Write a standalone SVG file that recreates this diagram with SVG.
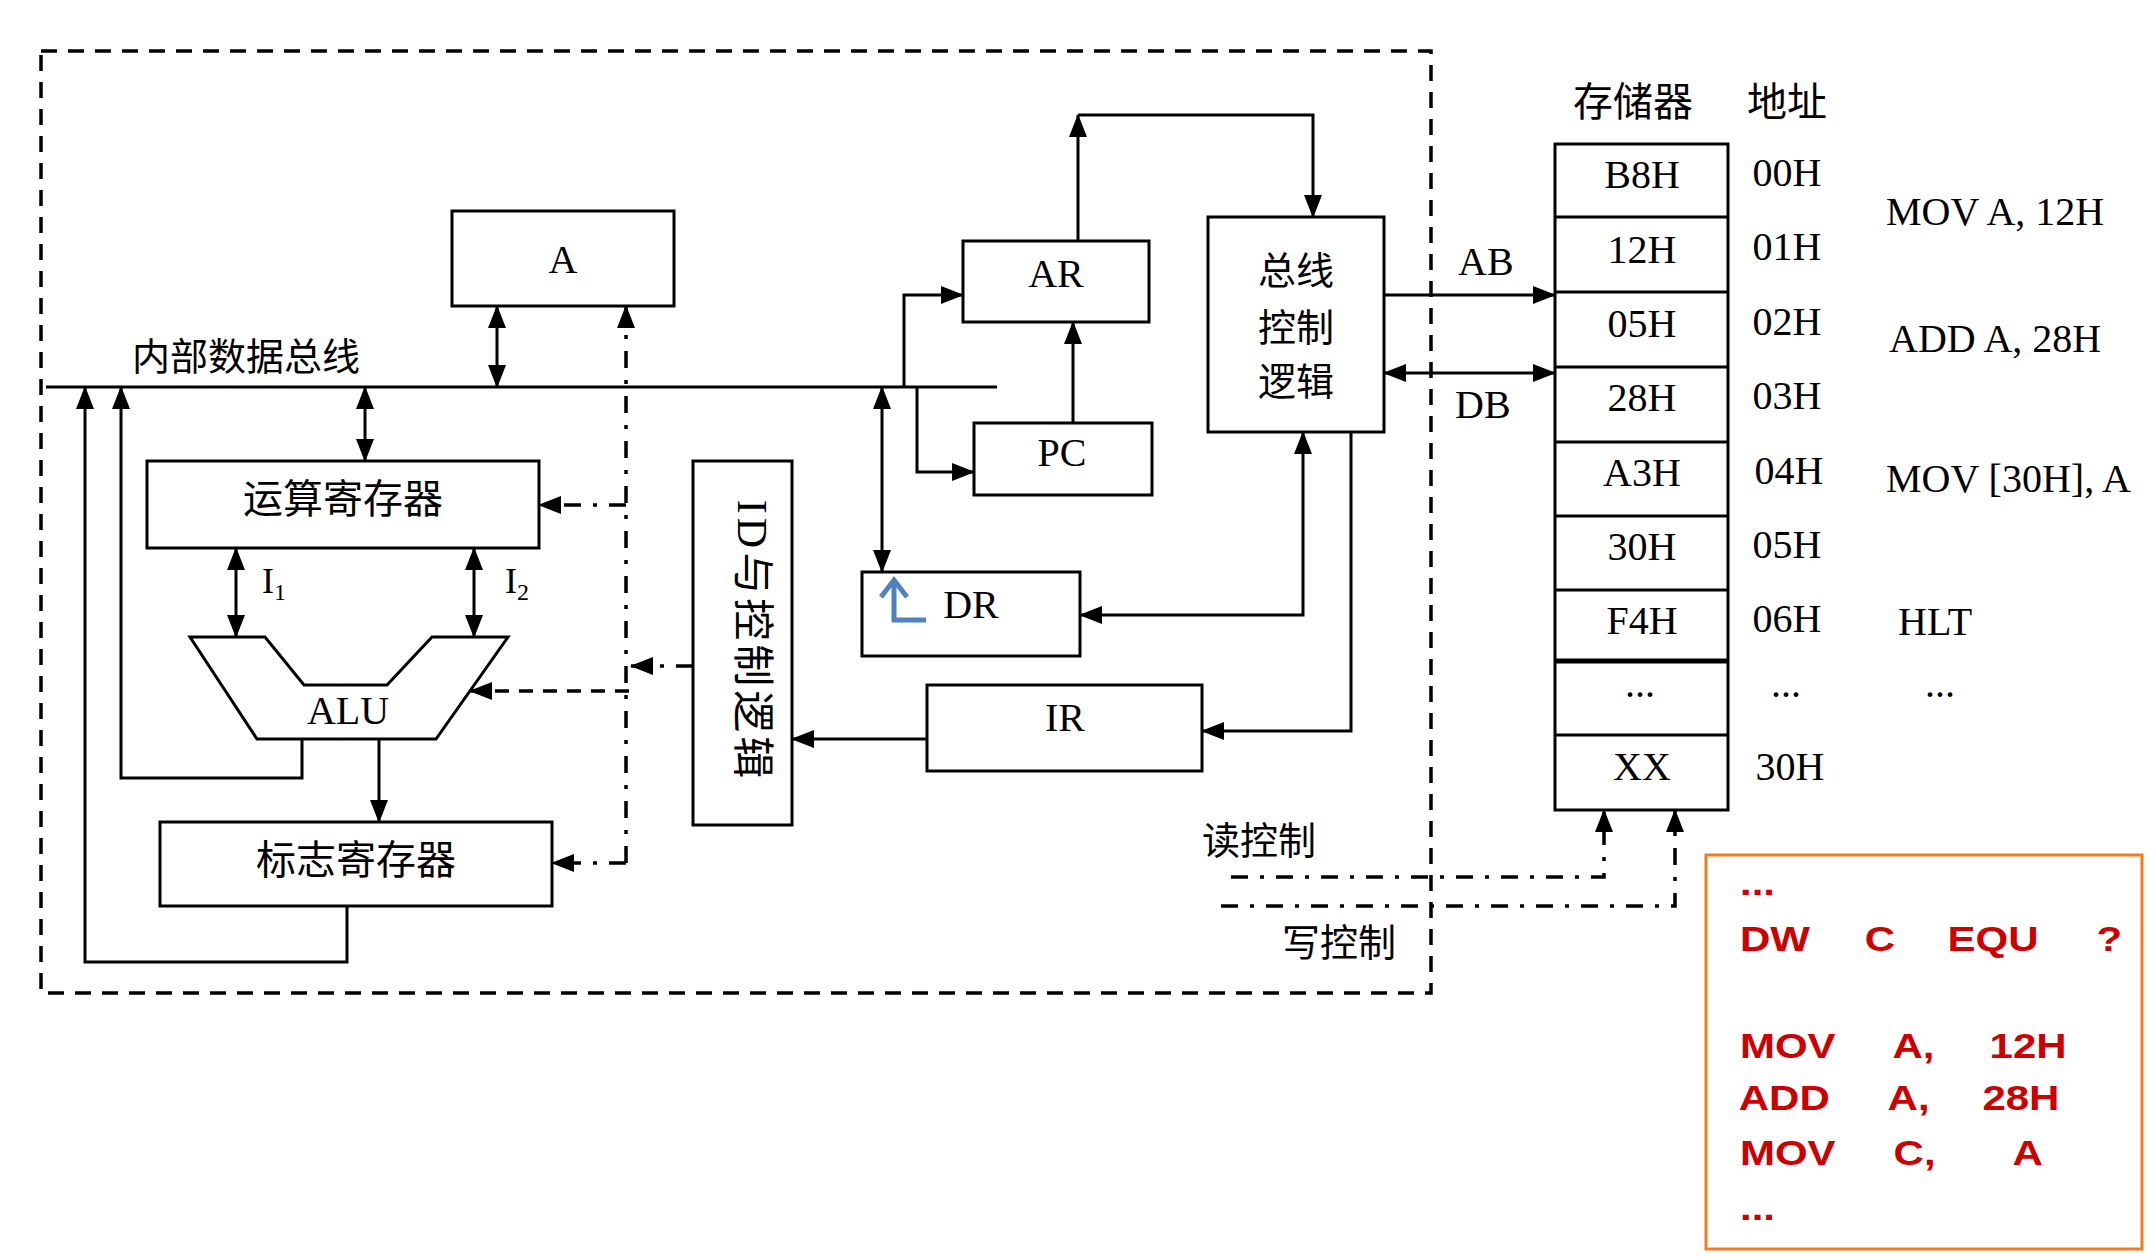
<svg xmlns="http://www.w3.org/2000/svg" width="2154" height="1260" viewBox="0 0 2154 1260">
<defs>
<marker id="ah" markerUnits="userSpaceOnUse" markerWidth="24" markerHeight="20" refX="22" refY="10" orient="auto-start-reverse" viewBox="0 0 24 20">
<path d="M0,1 L23,10 L0,19 Z" fill="#000"/>
</marker>
<style>
.box{fill:#fff;stroke:#000;stroke-width:3}
.ln{fill:none;stroke:#000;stroke-width:3}
.dd{fill:none;stroke:#000;stroke-width:3.5;stroke-dasharray:17 12 4 12}
.da{fill:none;stroke:#000;stroke-width:3.5;stroke-dasharray:14 10}
.frame{fill:none;stroke:#000;stroke-width:3.5;stroke-dasharray:16 11}
.se{font-family:"Liberation Serif","Noto Sans CJK SC",serif;font-size:40px;fill:#000}
.cn{font-family:"Noto Sans CJK SC","Noto Sans CJK TC",sans-serif;font-size:38px;fill:#000}
.rd{font-family:"Liberation Sans",Arial,sans-serif;font-weight:bold;font-size:35px;fill:#CC0000}
.mid{text-anchor:middle}
</style>
</defs>
<rect width="2154" height="1260" fill="#fff"/>
<rect class="frame" x="41" y="51" width="1390" height="942"/>

<g id="connectors">
<line class="ln" x1="46" y1="387" x2="997" y2="387" stroke="#333"/>
<line class="ln" x1="497" y1="306" x2="497" y2="387" marker-start="url(#ah)" marker-end="url(#ah)"/>
<line class="ln" x1="365" y1="387" x2="365" y2="461" marker-start="url(#ah)" marker-end="url(#ah)"/>
<path class="dd" d="M626,863 V306" marker-end="url(#ah)"/>
<path class="dd" d="M626,505 H539" marker-end="url(#ah)"/>
<path class="da" d="M629,691 H470" marker-end="url(#ah)"/>
<path class="dd" d="M693,666 H631" marker-end="url(#ah)"/>
<path class="dd" d="M626,863 H552" marker-end="url(#ah)"/>
<path class="ln" d="M302,739 V778 H121 V387" marker-end="url(#ah)"/>
<path class="ln" d="M347,906 V962 H85 V387" marker-end="url(#ah)"/>
<line class="ln" x1="236" y1="548" x2="236" y2="637" marker-start="url(#ah)" marker-end="url(#ah)"/>
<line class="ln" x1="474" y1="548" x2="474" y2="637" marker-start="url(#ah)" marker-end="url(#ah)"/>
<line class="ln" x1="379" y1="739" x2="379" y2="822" marker-end="url(#ah)"/>
<line class="ln" x1="882" y1="387" x2="882" y2="572" marker-start="url(#ah)" marker-end="url(#ah)"/>
<path class="ln" d="M904,387 V295 H963" marker-end="url(#ah)"/>
<path class="ln" d="M917,387 V472 H974" marker-end="url(#ah)"/>
<line class="ln" x1="1073" y1="423" x2="1073" y2="322" marker-end="url(#ah)"/>
<line class="ln" x1="1078" y1="241" x2="1078" y2="115" marker-end="url(#ah)"/>
<path class="ln" d="M1078,115 H1313 V217" marker-end="url(#ah)"/>
<line class="ln" x1="1384" y1="295" x2="1555" y2="295" marker-end="url(#ah)"/>
<line class="ln" x1="1384" y1="373" x2="1555" y2="373" marker-start="url(#ah)" marker-end="url(#ah)"/>
<path class="ln" d="M1303,432 V615 H1080" marker-start="url(#ah)" marker-end="url(#ah)"/>
<path class="ln" d="M1351,432 V731 H1202" marker-end="url(#ah)"/>
<path class="ln" d="M927,739 H792" marker-end="url(#ah)"/>
<path class="dd" d="M1231,877 H1604 V810" marker-end="url(#ah)"/>
<path class="dd" d="M1221,906 H1675 V810" marker-end="url(#ah)"/>
</g>

<text class="cn" x="132" y="370">内部数据总线</text>

<g id="node-A">
<rect class="box" x="452" y="211" width="222" height="95"/>
<text class="se mid" x="563" y="273">A</text>
</g>
<g id="node-opreg">
<rect class="box" x="147" y="461" width="392" height="87"/>
<text class="cn mid" x="343" y="513" style="font-size:40px">运算寄存器</text>
</g>
<g id="node-alu">
<polygon class="box" points="190,637 265,637 304,685 387,685 432,637 508,637 436,739 257,739"/>
<text class="se mid" x="348" y="724">ALU</text>
</g>
<text class="se" x="262" y="593" style="font-size:36px">I<tspan dy="7" style="font-size:24px">1</tspan></text>
<text class="se" x="505" y="593" style="font-size:36px">I<tspan dy="7" style="font-size:24px">2</tspan></text>
<g id="node-flag">
<rect class="box" x="160" y="822" width="392" height="84"/>
<text class="cn mid" x="356" y="874" style="font-size:40px">标志寄存器</text>
</g>
<g id="node-id">
<rect class="box" x="693" y="461" width="99" height="364"/>
<text class="se mid" transform="translate(752,641) rotate(90)" dominant-baseline="central" style="font-size:42px;letter-spacing:4px">ID与控制逻辑</text>
</g>
<g id="node-dr">
<rect class="box" x="862" y="572" width="218" height="84"/>
<text class="se mid" x="971" y="618">DR</text>
<path d="M894,580 V620 H926 M881,597 L894,580 L907,597" fill="none" stroke="#4F81BD" stroke-width="5"/>
</g>
<g id="node-ar">
<rect class="box" x="963" y="241" width="186" height="81"/>
<text class="se mid" x="1056" y="287">AR</text>
</g>
<g id="node-pc">
<rect class="box" x="974" y="423" width="178" height="72"/>
<text class="se mid" x="1062" y="466">PC</text>
</g>
<g id="node-busctrl">
<rect class="box" x="1208" y="217" width="176" height="215"/>
<text class="cn mid" x="1296" y="284">总线</text>
<text class="cn mid" x="1296" y="341">控制</text>
<text class="cn mid" x="1296" y="395">逻辑</text>
</g>
<g id="node-ir">
<rect class="box" x="927" y="685" width="275" height="86"/>
<text class="se mid" x="1065" y="731">IR</text>
</g>
<text class="se" x="1458" y="275">AB</text>
<text class="se" x="1455" y="418">DB</text>
<text class="cn" x="1202" y="854">读控制</text>
<text class="cn" x="1282" y="956">写控制</text>

<g id="node-memory">
<rect class="box" x="1555" y="144" width="173" height="666"/>
<path class="ln" d="M1555,217 H1728 M1555,292 H1728 M1555,367 H1728 M1555,442 H1728 M1555,516 H1728 M1555,590 H1728 M1555,735 H1728"/>
<line x1="1555" y1="661" x2="1728" y2="661" stroke="#000" stroke-width="5"/>
<text class="cn mid" x="1633" y="116" style="font-size:40px">存储器</text>
<text class="cn mid" x="1787" y="116" style="font-size:40px">地址</text>
<text class="se mid" x="1642" y="188">B8H</text>
<text class="se mid" x="1642" y="263">12H</text>
<text class="se mid" x="1642" y="337">05H</text>
<text class="se mid" x="1642" y="411">28H</text>
<text class="se mid" x="1642" y="486">A3H</text>
<text class="se mid" x="1642" y="560">30H</text>
<text class="se mid" x="1642" y="634">F4H</text>
<text class="se mid" x="1640" y="697">...</text>
<text class="se mid" x="1642" y="780">XX</text>
<text class="se mid" x="1787" y="186">00H</text>
<text class="se mid" x="1787" y="260">01H</text>
<text class="se mid" x="1787" y="335">02H</text>
<text class="se mid" x="1787" y="409">03H</text>
<text class="se mid" x="1789" y="484">04H</text>
<text class="se mid" x="1787" y="558">05H</text>
<text class="se mid" x="1787" y="632">06H</text>
<text class="se mid" x="1786" y="697">...</text>
<text class="se mid" x="1790" y="780">30H</text>
<text class="se" x="1886" y="225">MOV A, 12H</text>
<text class="se" x="1889" y="352">ADD A, 28H</text>
<text class="se" x="1886" y="492">MOV [30H], A</text>
<text class="se" x="1898" y="635">HLT</text>
<text class="se" x="1925" y="697">...</text>
</g>

<g id="node-code">
<rect x="1706" y="855" width="436" height="394" fill="none" stroke="#F47A20" stroke-width="3"/>
<g transform="scale(1.2 1)">
<text class="rd" x="1450" y="895">...</text>
<text class="rd" x="1450" y="951">DW</text>
<text class="rd" x="1554" y="951">C</text>
<text class="rd" x="1623" y="951">EQU</text>
<text class="rd" x="1747" y="951">?</text>
<text class="rd" x="1450" y="1058">MOV</text>
<text class="rd" x="1577" y="1058">A,</text>
<text class="rd" x="1658" y="1058">12H</text>
<text class="rd" x="1449" y="1110">ADD</text>
<text class="rd" x="1573" y="1110">A,</text>
<text class="rd" x="1652" y="1110">28H</text>
<text class="rd" x="1450" y="1165">MOV</text>
<text class="rd" x="1578" y="1165">C,</text>
<text class="rd" x="1677" y="1165">A</text>
<text class="rd" x="1450" y="1220">...</text>
</g>
</g>
</svg>
